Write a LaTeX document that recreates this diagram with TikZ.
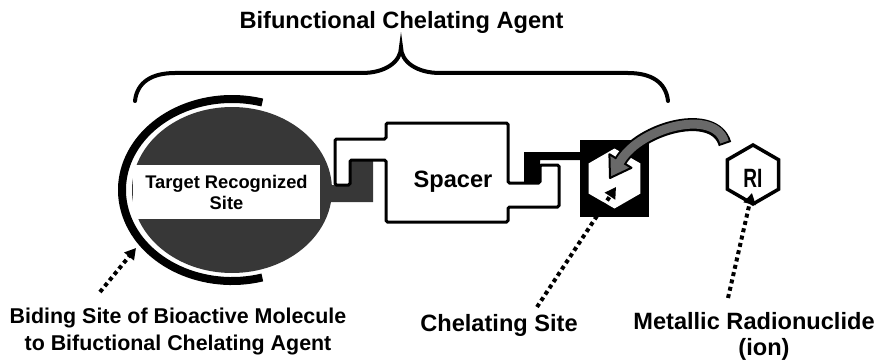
\documentclass[tikz,border=0pt]{standalone}
\usepackage{fontspec}
\setmainfont{Liberation Sans}
\usetikzlibrary{arrows.meta,calc}
\definecolor{darkfill}{RGB}{55,55,55}
\definecolor{arrgray}{RGB}{105,105,105}
\begin{document}
\begin{tikzpicture}[x=1pt,y=-1pt,
  lbl/.style={font=\bfseries\fontsize{23.6}{28}\selectfont, anchor=base, inner sep=0pt},
  lblsmall/.style={font=\bfseries\fontsize{21.4}{25}\selectfont, anchor=base, inner sep=0pt},
  dotarrow/.style={line width=4pt, dash pattern=on 4pt off 3.5pt, -{Triangle[length=11pt,width=12pt]}},
  outline/.style={line width=3pt, rounded corners=1.5pt},
  hexshape/.style={fill=white}
]
\useasboundingbox (0,0) rectangle (878,361);

% brace
\draw[line width=4pt, line cap=round] (135,101) .. controls (137,82) and (152,73) .. (175,73) -- (362,73) .. controls (385,73) and (401,62) .. (401,47) .. controls (401,62) and (417,73) .. (440,73) -- (628,73) .. controls (651,73) and (666,82) .. (668,101);

% C arc and ellipse
\draw[line width=8pt] ($(232,190)+(74:110 and 91)$) arc[start angle=74, end angle=286, x radius=110, y radius=91];
\fill[darkfill] (232,190) ellipse [x radius=100, y radius=83];

% left stub
\fill[darkfill] (326,185) -- (350,185) -- (350,160) -- (373,160) -- (373,202) -- (326,202) -- cycle;
% right linker
\fill[black] (524,152) -- (580,152) -- (580,160) -- (540,160) -- (540,183) -- (524,183) -- cycle;
% spacer
\draw[outline, fill=white] (335,185) -- (335,139) -- (386,139) -- (386,123) -- (508,123) -- (508,183) -- (540,183) -- (540,165) -- (559,165) -- (559,207) -- (508,207) -- (508,222) -- (386,222) -- (386,160) -- (350,160) -- (350,185) -- cycle;
\node[lbl] (sp) at (453,187) {Spacer};

% target box
\node[fill=white, minimum width=187pt, minimum height=54pt, inner sep=0pt, align=center, font=\bfseries\fontsize{18.3}{21}\selectfont] (trs) at (226.5,192) {Target Recognized\\Site};

% chelating square and hexagon
\fill[black] (580,140) rectangle (649,217);
\coordinate (hc) at (614.5,178.5);
\fill[white] (hc) +(90:30) -- +(150:30) -- +(210:30) -- +(270:30) -- +(330:30) -- +(30:30) -- cycle;

% RI hexagon
\coordinate (rc) at (753,174.5);
\draw[line width=3.5pt, fill=white, line join=miter] (rc) +(90:29.5) -- +(150:29.5) -- +(210:29.5) -- +(270:29.5) -- +(330:29.5) -- +(30:29.5) -- cycle;
\node[font=\bfseries\fontsize{26.5}{30}\selectfont, anchor=base, inner sep=0pt] (ri) at (753,187) {\scalebox{0.72}[1]{RI}};

% gray curved arrow
\coordinate (gt) at (725,144);
\coordinate (gb) at (620.4,161);
\coordinate (gtip) at (610,178);
\coordinate (gc1) at (631.5,167.8);
\coordinate (gc2) at (609.4,154.2);
\coordinate (gbx) at (618.8,163.6);
\draw[line width=13pt, black] (gt) .. controls (715,108) and (641,127) .. (gb);
\filldraw[fill=arrgray, draw=black, line width=2pt, line join=round] (gtip) -- (gc1) -- (gc2) -- cycle;
\draw[line width=9pt, arrgray, shorten <=2pt] (gt) .. controls (715,108) and (641,127) .. (gb) -- (gbx);

% dotted arrows
\coordinate (d1s) at (100,292); \coordinate (d1e) at (136,248);
\coordinate (d2s) at (537,307); \coordinate (d2e) at (616,187);
\coordinate (d3s) at (728,298); \coordinate (d3e) at (752,193);
\draw[dotarrow] (d1s) -- (d1e);
\draw[dotarrow] (d2s) -- (d2e);
\draw[dotarrow] (d3s) -- (d3e);

% labels
\node[lbl] (title) at (401.5,29) {Bifunctional Chelating Agent};
\node[lblsmall] (bs1) at (178,323) {Biding Site of Bioactive Molecule};
\node[lblsmall] (bs2) at (178,350) {to Bifuctional Chelating Agent};
\node[lbl] (cs) at (499,331) {Chelating Site};
\node[lbl] (mr1) at (754,329) {Metallic Radionuclide};
\node[lbl] (mr2) at (764,355) {(ion)};
\end{tikzpicture}
\end{document}
